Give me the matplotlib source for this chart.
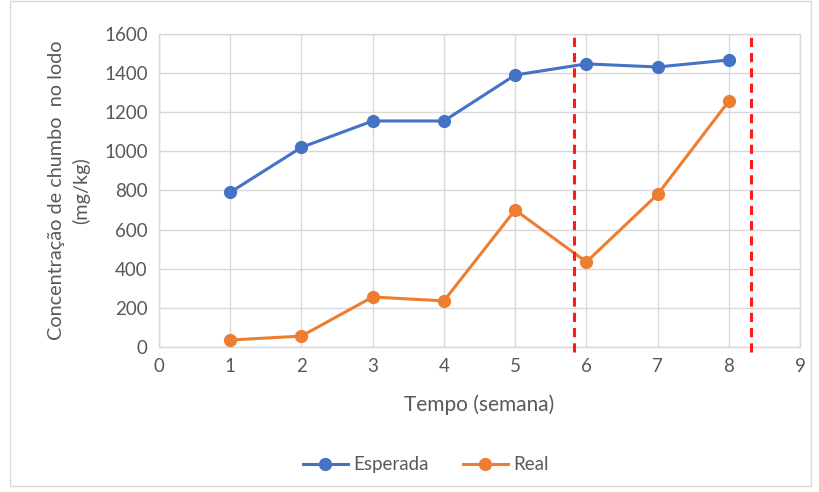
import matplotlib
matplotlib.use("Agg")
import matplotlib.pyplot as plt
from matplotlib.patches import Rectangle

weeks = [1, 2, 3, 4, 5, 6, 7, 8]
esperada = [790, 1020, 1155, 1155, 1390, 1447, 1431, 1467]
real = [35, 55, 255, 235, 700, 434, 780, 1257]
vlines_x = [5.83, 8.31]
xticks = list(range(0, 10))
yticks = list(range(0, 1601, 200))

plt.rcParams['font.family'] = ['Lato', 'DejaVu Sans']
txt = '#595959'

fig = plt.figure(figsize=(8.19, 4.92), dpi=100)
fig.patches.append(Rectangle((0.012, 0.012), 0.978, 0.985, transform=fig.transFigure,
                             fill=False, edgecolor='#d9d9d9', linewidth=1))
ax = fig.add_axes([0.194, 0.295, 0.783, 0.636])

ax.plot(weeks, esperada, color='#4472C4', marker='o', markersize=8.5, linewidth=2.2, label='Esperada', zorder=3)
ax.plot(weeks, real, color='#ED7D31', marker='o', markersize=8.5, linewidth=2.2, label='Real', zorder=3)
for xv in vlines_x:
    ax.axvline(xv, ymin=-0.015, ymax=0.995, color='#FF1A1A', linestyle=(0, (3, 2)), linewidth=2.2,
               clip_on=False, zorder=4)

ax.set_xlim(0, 9)
ax.set_ylim(0, 1600)
ax.set_xticks(xticks)
ax.set_yticks(yticks)
ax.grid(True, color='#d9d9d9', linewidth=1)
ax.set_axisbelow(True)
for s in ax.spines.values():
    s.set_color('#d9d9d9')
    s.set_linewidth(1)
ax.tick_params(length=0, labelsize=13.5, colors=txt, pad=8)
ax.set_xlabel('Tempo (semana)', fontsize=15, color=txt, labelpad=14)
ax.set_ylabel('Concentração de chumbo  no lodo\n(mg/kg)', fontsize=14.3, color=txt, labelpad=10,
              linespacing=1.45)

fig.legend(loc='center', bbox_to_anchor=(0.52, 0.055), ncol=2, frameon=False, fontsize=13.5,
           labelcolor=txt, handlelength=2.4, columnspacing=1.8, handletextpad=0.3)

fig.savefig('out.png', dpi=100)
